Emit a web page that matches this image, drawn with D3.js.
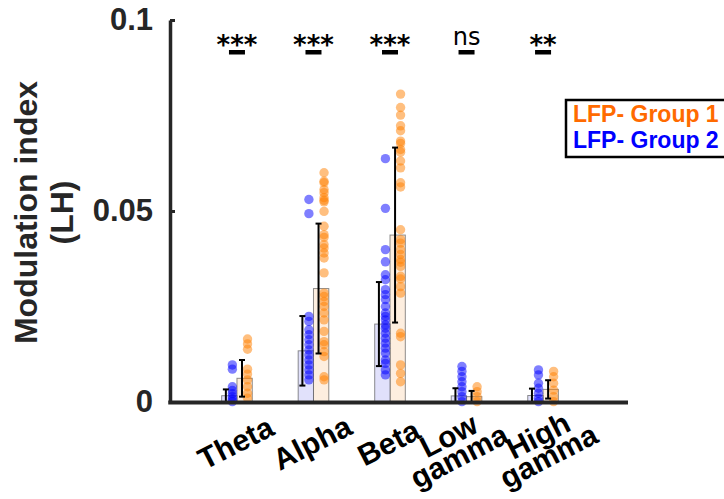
<!DOCTYPE html>
<html>
<head>
<meta charset="utf-8">
<script src="https://cdn.jsdelivr.net/npm/d3@7"></script>
<style>
  html, body { margin: 0; padding: 0; background: #fff; }
  svg { display: block; font-family: "Liberation Sans", Arial, sans-serif; }
</style>
</head>
<body>
<svg id="chart" width="724" height="499"></svg>
<script>
// Frequency bands (tick label lines)
const categories = [["Theta"], ["Alpha"], ["Beta"], ["Low", "gamma"], ["High", "gamma"]];
const yTicks = [0, 0.05, 0.1];
const yTickLabels = ["0", "0.05", "0.1"];
const significance = ["***", "***", "***", "ns", "**"];
const seriesNames = ["LFP- Group 1", "LFP- Group 2"];

// Group means and standard deviations per band
const group1Mean = [0.0062, 0.0297, 0.0437, 0.0014, 0.0033];
const group1Sd   = [0.0048, 0.0170, 0.0229, 0.0015, 0.0024];
const group2Mean = [0.00165, 0.0134, 0.0204, 0.0016, 0.0017];
const group2Sd   = [0.00165, 0.0091, 0.0110, 0.0020, 0.0018];

// Individual recordings, Group 1
const group1Theta = [0.0165, 0.0152, 0.0138, 0.0086, 0.0073, 0.0058, 0.0040, 0.0023, 0.0010];
const group1Alpha = [0.0600, 0.0578, 0.0574, 0.0556, 0.0548, 0.0535, 0.0528, 0.0524, 0.0499, 0.0460,
                     0.0438, 0.0431, 0.0412, 0.0403, 0.0390, 0.0377, 0.0338, 0.0285, 0.0276, 0.0263,
                     0.0250, 0.0233, 0.0215, 0.0185, 0.0158, 0.0150, 0.0132, 0.0119, 0.0066, 0.0058];
const group1Beta  = [0.0806, 0.0771, 0.0751, 0.0723, 0.0710, 0.0683, 0.0677, 0.0661, 0.0654, 0.0631,
                     0.0613, 0.0574, 0.0563, 0.0451, 0.0425, 0.0416, 0.0399, 0.0386, 0.0373, 0.0366,
                     0.0355, 0.0329, 0.0322, 0.0302, 0.0285, 0.0180, 0.0171, 0.0097, 0.0075, 0.0053];
const group1LowGamma  = [0.0040, 0.0027, 0.0014, 0.0001];
const group1HighGamma = [0.0080, 0.0066, 0.0049, 0.0031, 0.0014, 0.0001];

// Individual recordings, Group 2
const group2Theta = [0.0097, 0.0086, 0.0040, 0.0030, 0.0022, 0.0014, 0.0007, 0.0001];
const group2Alpha = [0.0530, 0.0493, 0.0224, 0.0211, 0.0189, 0.0176, 0.0163, 0.0150, 0.0136, 0.0123,
                     0.0110, 0.0097, 0.0084, 0.0071, 0.0058];
const group2Beta  = [0.0637, 0.0507, 0.0399, 0.0367, 0.0333, 0.0320, 0.0294, 0.0281, 0.0268, 0.0250,
                     0.0233, 0.0224, 0.0215, 0.0202, 0.0193, 0.0180, 0.0167, 0.0154, 0.0141, 0.0128,
                     0.0110, 0.0101, 0.0084, 0.0071];
const group2LowGamma  = [0.0093, 0.0080, 0.0066, 0.0053, 0.0040, 0.0027, 0.0014, 0.0001];
const group2HighGamma = [0.0084, 0.0071, 0.0049, 0.0036, 0.0023, 0.0010, 0.0001];

const group1Points = [group1Theta, group1Alpha, group1Beta, group1LowGamma, group1HighGamma];
const group2Points = [group2Theta, group2Alpha, group2Beta, group2LowGamma, group2HighGamma];

const colors = { g1: "#ff8000", g2: "#0000ff", g1Text: "#ff6a00", axis: "#262626" };

const svg = d3.select("#chart");

// Bands sit at positions 1..5
const x = d3.scaleLinear().domain([0.125, 6.11]).range([170, 628]);
const y = d3.scaleLinear().domain([0, 0.1]).range([402, 20]);

const barW = 0.2;

const groups = [
  { mean: group1Mean, sd: group1Sd, pts: group1Points, color: colors.g1, fill: "#fdeedf",
    barOff: 0, errOff: 0.066, dotOff: 0.138 },
  { mean: group2Mean, sd: group2Sd, pts: group2Points, color: colors.g2, fill: "#e1e1fb",
    barOff: -barW, errOff: -0.145, dotOff: -0.06 }
];

// Bars
groups.forEach(g => {
  svg.append("g").selectAll("rect")
    .data(g.mean)
    .join("rect")
    .attr("x", (d, i) => x(i + 1 + g.barOff))
    .attr("width", (d, i) => x(i + 1 + g.barOff + barW) - x(i + 1 + g.barOff))
    .attr("y", d => y(d))
    .attr("height", d => y(0) - y(d))
    .attr("fill", g.fill)
    .attr("stroke", "#444")
    .attr("stroke-opacity", 0.6)
    .attr("stroke-width", 1);
});

// Individual points
groups.forEach(g => {
  const flat = [];
  g.pts.forEach((arr, i) => arr.forEach(v => flat.push({ i, v })));
  svg.append("g").selectAll("circle")
    .data(flat)
    .join("circle")
    .attr("cx", d => x(d.i + 1 + g.dotOff))
    .attr("cy", d => y(d.v))
    .attr("r", 4.7)
    .attr("fill", g.color)
    .attr("fill-opacity", 0.5);
});

// Error bars (mean ± sd)
groups.forEach(g => {
  const eb = svg.append("g").attr("stroke", "#000").attr("stroke-width", 2);
  g.mean.forEach((m, i) => {
    const cx = x(i + 1 + g.errOff);
    const lo = Math.max(0, m - g.sd[i]), hi = m + g.sd[i];
    eb.append("line").attr("x1", cx).attr("x2", cx).attr("y1", y(lo)).attr("y2", y(hi));
    eb.append("line").attr("x1", cx - 3).attr("x2", cx + 3).attr("y1", y(hi)).attr("y2", y(hi));
    eb.append("line").attr("x1", cx - 3).attr("x2", cx + 3).attr("y1", y(lo)).attr("y2", y(lo));
  });
});

// Axes
const yAxis = d3.axisLeft(y).tickValues(yTicks).tickFormat((d, i) => yTickLabels[i])
  .tickSizeInner(-5).tickSizeOuter(0).tickPadding(17);
const gy = svg.append("g").attr("transform", `translate(${x.range()[0]},0)`).call(yAxis);
gy.select(".domain").attr("stroke", colors.axis).attr("stroke-width", 3.5);
gy.selectAll(".tick line").attr("stroke", colors.axis).attr("stroke-width", 3);
gy.selectAll(".tick text")
  .attr("fill", colors.axis)
  .style("font-size", "31px").style("font-weight", "bold")
  .style("font-family", '"Liberation Sans", Arial, sans-serif');

svg.append("line")
  .attr("x1", x.range()[0] - 1.75).attr("x2", x.range()[1])
  .attr("y1", y(0) + 0.5).attr("y2", y(0) + 0.5)
  .attr("stroke", colors.axis).attr("stroke-width", 4);

// Band labels, rotated; a second line sits below the first.
// "Low gamma" is eased left so it clears the neighbouring label.
const labelAngle = -27, lineGap = 23, firstLineLift = 8;
categories.forEach((lines, i) => {
  const nudge = lines[0] === "Low" ? -13 : 0;
  const t = svg.append("text")
    .attr("transform", `translate(${x(i + 1) + 3.5 + nudge},${y(0) + 50}) rotate(${labelAngle})`)
    .attr("text-anchor", "middle")
    .attr("fill", "#000")
    .style("font-size", "30px").style("font-weight", "bold");
  lines.forEach((s, k) => {
    t.append("tspan").attr("x", 0)
      .attr("y", k * lineGap - (lines.length - 1) * firstLineLift)
      .text(s);
  });
});

// Y axis title
const yt = svg.append("text")
  .attr("transform", `translate(37,212.5) rotate(-90)`)
  .attr("text-anchor", "middle")
  .attr("fill", colors.axis)
  .style("font-size", "32px").style("font-weight", "bold");
yt.append("tspan").attr("x", 0).attr("dy", 0).text("Modulation index");
yt.append("tspan").attr("x", 0).attr("dy", 36).text("(LH)");

// Significance marks
significance.forEach((s, i) => {
  const cx = x(i + 1);
  svg.append("text")
    .attr("x", cx).attr("y", s === "ns" ? 44.5 : 54)
    .attr("text-anchor", "middle")
    .attr("fill", "#000")
    .style("font-family", '"DejaVu Sans", sans-serif')
    .style("font-size", s === "ns" ? "24px" : "26px")
    .style("font-weight", s === "ns" ? "normal" : "bold")
    .text(s);
  svg.append("rect")
    .attr("x", cx - 8).attr("y", 50)
    .attr("width", 16).attr("height", 4.5)
    .attr("fill", "#000");
});

// Legend
const lg = svg.append("g");
lg.append("rect")
  .attr("x", 566).attr("y", 100).attr("width", 200).attr("height", 57)
  .attr("fill", "#fff").attr("stroke", "#000").attr("stroke-width", 2.5);
[colors.g1Text, colors.g2].forEach((c, k) => {
  lg.append("text")
    .attr("x", 573).attr("y", 122 + k * 26)
    .attr("fill", c)
    .style("font-size", "23px").style("font-weight", "bold")
    .text(seriesNames[k]);
});
</script>
</body>
</html>
